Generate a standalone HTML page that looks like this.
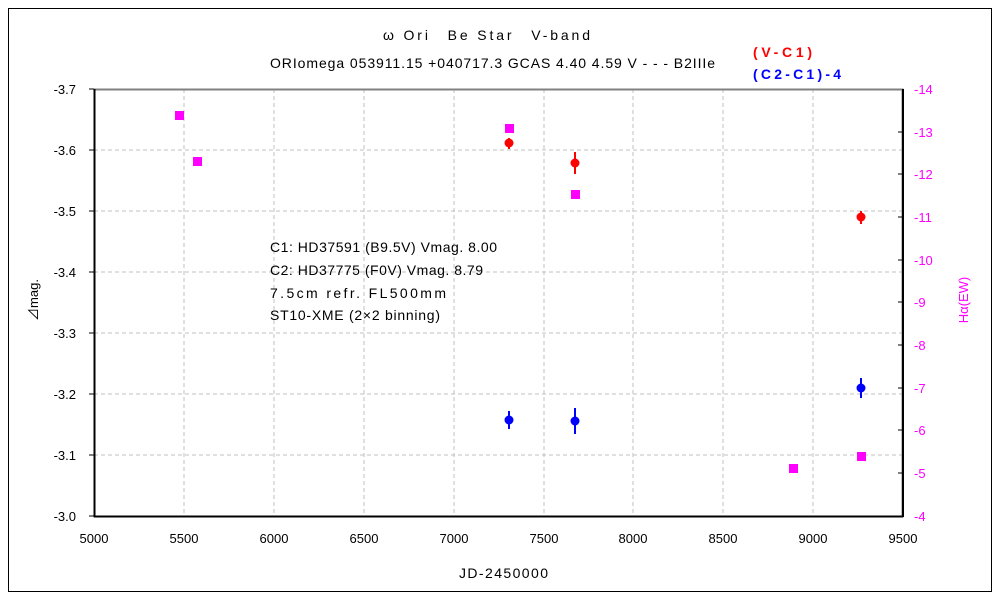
<!DOCTYPE html>
<html><head><meta charset="utf-8"><style>body{margin:0;background:#fff}svg{display:block}text{font-family:"Liberation Sans","Noto Sans CJK JP",sans-serif;font-size:13px}.b{font-size:14px}</style></head><body>
<svg width="1000" height="600" xmlns="http://www.w3.org/2000/svg">
<rect x="8.5" y="8.5" width="983" height="583" fill="#fff" stroke="#000"/>
<g stroke="#c0c0c0" stroke-dasharray="4,3">
<line x1="184" y1="89" x2="184" y2="516"/><line x1="274" y1="89" x2="274" y2="516"/><line x1="364" y1="89" x2="364" y2="516"/><line x1="454" y1="89" x2="454" y2="516"/><line x1="544" y1="89" x2="544" y2="516"/><line x1="633" y1="89" x2="633" y2="516"/><line x1="723" y1="89" x2="723" y2="516"/><line x1="813" y1="89" x2="813" y2="516"/>
<line x1="94" y1="150" x2="903" y2="150"/><line x1="94" y1="211" x2="903" y2="211"/><line x1="94" y1="272" x2="903" y2="272"/><line x1="94" y1="333" x2="903" y2="333"/><line x1="94" y1="394" x2="903" y2="394"/><line x1="94" y1="455" x2="903" y2="455"/>
</g>
<rect x="94.5" y="89.5" width="808" height="427" fill="none" stroke="#808080" stroke-width="2"/>
<line x1="94.5" y1="89" x2="94.5" y2="517" stroke="#000" stroke-width="2"/>
<line x1="903" y1="89" x2="903" y2="517" stroke="#000" stroke-width="2"/>
<line x1="94" y1="516.5" x2="903" y2="516.5" stroke="#000" stroke-width="2"/>
<g stroke="#000">
<line x1="89" y1="89" x2="94" y2="89"/><line x1="89" y1="150" x2="94" y2="150"/><line x1="89" y1="211" x2="94" y2="211"/><line x1="89" y1="272" x2="94" y2="272"/><line x1="89" y1="333" x2="94" y2="333"/><line x1="89" y1="394" x2="94" y2="394"/><line x1="89" y1="455" x2="94" y2="455"/><line x1="89" y1="516" x2="94" y2="516"/>
<line x1="898" y1="132" x2="903" y2="132"/><line x1="898" y1="174" x2="903" y2="174"/><line x1="898" y1="217" x2="903" y2="217"/><line x1="898" y1="260" x2="903" y2="260"/><line x1="898" y1="302" x2="903" y2="302"/><line x1="898" y1="345" x2="903" y2="345"/><line x1="898" y1="388" x2="903" y2="388"/><line x1="898" y1="430" x2="903" y2="430"/><line x1="898" y1="473" x2="903" y2="473"/>
</g>
<g text-anchor="end">
<text x="76" y="94">-3.7</text><text x="76" y="155">-3.6</text><text x="76" y="216">-3.5</text><text x="76" y="277">-3.4</text><text x="76" y="338">-3.3</text><text x="76" y="399">-3.2</text><text x="76" y="460">-3.1</text><text x="76" y="521">-3.0</text>
</g>
<g fill="#ff00ff">
<text x="914" y="94">-14</text><text x="914" y="137">-13</text><text x="914" y="179">-12</text><text x="914" y="222">-11</text><text x="914" y="265">-10</text><text x="914" y="307">-9</text><text x="914" y="350">-8</text><text x="914" y="393">-7</text><text x="914" y="435">-6</text><text x="914" y="478">-5</text><text x="914" y="521">-4</text>
</g>
<g text-anchor="middle">
<text x="94" y="543">5000</text><text x="184" y="543">5500</text><text x="274" y="543">6000</text><text x="364" y="543">6500</text><text x="454" y="543">7000</text><text x="544" y="543">7500</text><text x="633" y="543">8000</text><text x="723" y="543">8500</text><text x="813" y="543">9000</text><text x="903" y="543">9500</text>
</g>
<text class="b" x="459" y="578" textLength="89" lengthAdjust="spacing">JD-2450000</text>
<text class="b" x="383" y="40" textLength="207" lengthAdjust="spacing">ω Ori　Be Star　V-band</text>
<text class="b" x="270" y="68" textLength="445" lengthAdjust="spacing">ORIomega 053911.15 +040717.3 GCAS 4.40 4.59 V - - - B2IIIe</text>
<text transform="translate(38,300) rotate(-90)" text-anchor="middle">⊿mag.</text>
<text transform="translate(968,300) rotate(-90)" text-anchor="middle" fill="#ff00ff">Hα(EW)</text>
<text class="b" x="753" y="57" fill="#ff0000" font-weight="bold" textLength="59" lengthAdjust="spacing">(V-C1)</text>
<text class="b" x="753" y="79" fill="#0000ff" font-weight="bold" textLength="88" lengthAdjust="spacing">(C2-C1)-4</text>
<text class="b" x="270" y="252" textLength="227" lengthAdjust="spacing">C1: HD37591 (B9.5V) Vmag. 8.00</text>
<text class="b" x="270" y="275" textLength="213" lengthAdjust="spacing">C2: HD37775 (F0V) Vmag. 8.79</text>
<text class="b" x="270" y="298" textLength="176" lengthAdjust="spacing">7.5cm refr. FL500mm</text>
<text class="b" x="270" y="320" textLength="170" lengthAdjust="spacing">ST10-XME (2×2 binning)</text>
<g fill="#ff00ff">
<rect x="175" y="111" width="9" height="9"/><rect x="193" y="157" width="9" height="9"/><rect x="505" y="124" width="9" height="9"/><rect x="571" y="190" width="9" height="9"/><rect x="789" y="464" width="9" height="9"/><rect x="857" y="452" width="9" height="9"/>
</g>
<g stroke="#ff0000" stroke-width="2"><line x1="509" y1="138" x2="509" y2="149"/><line x1="575" y1="152" x2="575" y2="174"/><line x1="861" y1="211" x2="861" y2="224"/></g>
<g fill="#ff0000"><circle cx="509" cy="143" r="4.5"/><circle cx="575" cy="163" r="4.5"/><circle cx="861" cy="217" r="4.5"/></g>
<g stroke="#0000ff" stroke-width="2"><line x1="509" y1="411" x2="509" y2="429"/><line x1="575" y1="408" x2="575" y2="434"/><line x1="861" y1="378" x2="861" y2="398"/></g>
<g fill="#0000ff"><circle cx="509" cy="420" r="4.5"/><circle cx="575" cy="421" r="4.5"/><circle cx="861" cy="388" r="4.5"/></g>
</svg>
</body></html>
